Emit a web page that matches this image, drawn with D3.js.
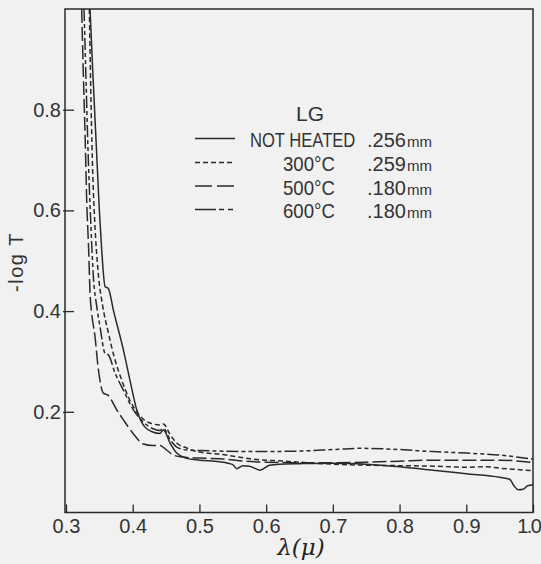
<!DOCTYPE html>
<html><head><meta charset="utf-8">
<script src="https://cdn.jsdelivr.net/npm/d3@7"></script>
<style>
html,body{margin:0;padding:0;background:#f1f1f1;}
svg{display:block;}
</style></head>
<body>
<svg id="c" width="541" height="564"></svg>
<script>
// ---- data ----
const xTicks = [0.3,0.4,0.5,0.6,0.7,0.8,0.9,1.0];
const yTicks = [0.2,0.4,0.6,0.8];

const notHeatedL = [0.336,0.340,0.345,0.350,0.3535,0.3585,0.3635,0.371,0.386,0.396,0.406,0.418,0.430,0.441,0.446,0.456,0.466,0.480,0.500,0.530,0.550,0.556,0.565,0.575,0.591,0.605,0.62,0.65,0.70,0.75,0.80,0.85,0.90,0.95,0.965,0.972,0.978,0.985,0.992,1.0];
const notHeatedV = [1.00,0.88,0.74,0.60,0.522,0.449,0.445,0.402,0.323,0.262,0.204,0.170,0.160,0.157,0.164,0.138,0.118,0.108,0.104,0.101,0.095,0.087,0.093,0.092,0.084,0.094,0.096,0.097,0.098,0.096,0.091,0.084,0.077,0.070,0.066,0.052,0.045,0.046,0.053,0.055];

const heated300L = [0.335,0.337,0.3395,0.343,0.348,0.355,0.363,0.372,0.383,0.395,0.407,0.418,0.430,0.441,0.446,0.456,0.466,0.481,0.50,0.53,0.58,0.626,0.70,0.75,0.80,0.85,0.90,0.93,0.95,0.97,1.0];
const heated300V = [1.00,0.85,0.70,0.58,0.48,0.41,0.36,0.31,0.265,0.225,0.198,0.183,0.176,0.174,0.176,0.155,0.138,0.128,0.120,0.116,0.106,0.102,0.096,0.094,0.093,0.092,0.090,0.091,0.088,0.086,0.083];

const heated500L = [0.3235,0.326,0.329,0.331,0.334,0.336,0.3385,0.3435,0.348,0.356,0.363,0.376,0.386,0.40,0.416,0.430,0.441,0.450,0.461,0.475,0.50,0.53,0.56,0.60,0.65,0.70,0.75,0.80,0.85,0.90,0.95,1.0];
const heated500V = [1.00,0.87,0.73,0.621,0.52,0.436,0.396,0.349,0.29,0.237,0.233,0.204,0.184,0.158,0.136,0.133,0.133,0.125,0.114,0.110,0.108,0.107,0.103,0.100,0.099,0.099,0.100,0.102,0.104,0.104,0.104,0.099];

const heated600L = [0.327,0.330,0.333,0.337,0.341,0.346,0.351,0.3585,0.3635,0.3735,0.386,0.401,0.412,0.425,0.436,0.441,0.446,0.456,0.466,0.481,0.50,0.53,0.58,0.65,0.70,0.74,0.80,0.85,0.90,0.95,1.0];
const heated600V = [1.00,0.86,0.72,0.58,0.469,0.41,0.369,0.316,0.313,0.277,0.243,0.204,0.185,0.170,0.164,0.163,0.167,0.145,0.130,0.124,0.123,0.122,0.121,0.122,0.125,0.1275,0.125,0.121,0.118,0.114,0.106];

const legendTitle = "LG";
const legendNames = ["NOT HEATED","300°C","500°C","600°C"];
const legendThick = [".256",".259",".180",".180"];

// ---- chart ----
const ink = "#2a2a2a";
const svg = d3.select("#c");
const L = 66, R = 533, T = 9, B = 512.5;
const x = d3.scaleLinear().domain([0.3,1.0]).range([L,R]);
const y = d3.scaleLinear().domain([0,1.0]).range([B,T]);

svg.append("defs").append("clipPath").attr("id","clip")
  .append("rect").attr("x",L).attr("y",T).attr("width",R-L).attr("height",B-T);

const series = [
  {l:notHeatedL, v:notHeatedV, dash:null},
  {l:heated300L, v:heated300V, dash:"5,3"},
  {l:heated500L, v:heated500V, dash:"14,4"},
  {l:heated600L, v:heated600V, dash:"12,3,4,3,4,3"}
];
const line = d3.line().x(d=>x(d[0])).y(d=>y(d[1])).curve(d3.curveMonotoneX);
const g = svg.append("g").attr("clip-path","url(#clip)");
series.forEach(s=>{
  g.append("path").datum(s.l.map((a,i)=>[a,s.v[i]]))
   .attr("d",line).attr("fill","none").attr("stroke",ink)
   .attr("stroke-width",1.5).attr("stroke-dasharray",s.dash);
});

// axes
const font = "Liberation Sans, Arial, sans-serif";
const xa = svg.append("g").attr("transform",`translate(0,${B})`)
  .call(d3.axisBottom(x).tickValues(xTicks).tickFormat(d3.format(".1f")).tickSize(-8).tickPadding(6));
xa.select(".domain").remove();
xa.selectAll("line").attr("stroke",ink).attr("stroke-width",1.3);
xa.selectAll("text").attr("font-family",font).attr("font-size",20).attr("fill","#333");
xa.selectAll("text").filter(d=>d===1.0).attr("text-anchor","end").attr("x",7).attr("letter-spacing",-1.5);

const ya = svg.append("g").attr("transform",`translate(${L-1},0)`)
  .call(d3.axisLeft(y).tickValues(yTicks).tickFormat(d3.format(".1f")).tickSize(-9).tickPadding(4));
ya.select(".domain").remove();
ya.selectAll("line").attr("x1",-2).attr("stroke",ink).attr("stroke-width",1.3);
ya.selectAll("text").attr("font-family",font).attr("font-size",20).attr("fill","#333");

// frame
svg.append("rect").attr("x",L-1).attr("y",T).attr("width",R-L+1).attr("height",B-T)
  .attr("fill","none").attr("stroke",ink).attr("stroke-width",1.5);

// axis titles
svg.append("text").attr("transform","translate(23,262) rotate(-90)")
  .attr("text-anchor","middle").attr("font-family",font).attr("font-size",20)
  .attr("letter-spacing",1.5).attr("fill","#333").text("-log T");
svg.append("text").attr("x",301).attr("y",555).attr("text-anchor","middle")
  .attr("font-family","DejaVu Serif, serif").attr("font-style","italic").attr("font-size",23)
  .attr("fill","#222").text("λ(μ)");

// legend
svg.append("text").attr("x",310).attr("y",121).attr("text-anchor","middle")
  .attr("font-family",font).attr("font-size",21).attr("fill","#333").text(legendTitle);
const rowsY = [147,171,194.5,218];
const nameX = [250,283,283,283];
const nameScale = [0.83,0.93,0.93,0.93];
legendNames.forEach((n,i)=>{
  const yy = rowsY[i];
  svg.append("line").attr("x1",195).attr("x2",235).attr("y1",yy-8.5).attr("y2",yy-8.5)
    .attr("stroke",ink).attr("stroke-width",1.5)
    .attr("stroke-dasharray", i===0?null: i===1?"5,3": i===2?"17,5":"21,3,5,4,5,3");
  svg.append("text").attr("transform",`translate(${nameX[i]},${yy}) scale(${nameScale[i]},1)`)
    .attr("font-family",font).attr("font-size",20).attr("fill","#333").text(n);
  const t = svg.append("text").attr("x",367).attr("y",yy).attr("font-family",font)
    .attr("font-size",20).attr("fill","#333");
  t.append("tspan").text(legendThick[i]);
  t.append("tspan").attr("font-size",15).attr("dx",1).text("mm");
});
</script>
</body></html>
